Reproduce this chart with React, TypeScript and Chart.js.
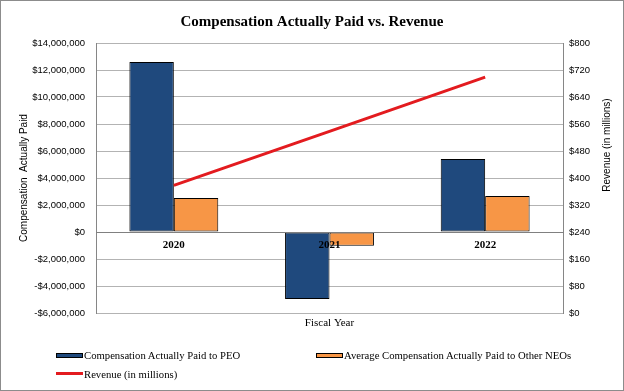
import React, { useEffect, useRef } from "react";
import { Chart, registerables } from "chart.js";

Chart.register(...registerables);

const categories = ["2020", "2021", "2022"];
const peoValues = [12600000, -4960000, 5410000];
const neoValues = [2520000, -1010000, 2670000];
const revenueValues = [378, 538, 699];
const leftTicks = { min: -6000000, max: 14000000, step: 2000000 };
const rightTicks = { min: 0, max: 800, step: 80 };

const titleText = "Compensation Actually Paid vs. Revenue";
const leftTitle = "Compensation  Actually Paid";
const rightTitle = "Revenue (in millions)";
const xTitle = "Fiscal Year";
const seriesNames = [
  "Compensation Actually Paid to PEO",
  "Average Compensation Actually Paid to Other NEOs",
  "Revenue (in millions)",
];

const PEO_COLOR = "#1F497D";
const NEO_COLOR = "#F79646";
const LINE_COLOR = "#E31B1F";
const SANS = '"Liberation Sans", Arial, sans-serif';
const SERIF = '"Liberation Serif", "Times New Roman", serif';

function money(v: number): string {
  const n = Math.round(Math.abs(v));
  const s = "$" + n.toLocaleString("en-US");
  return v < 0 ? "-" + s : s;
}

const titlesPlugin = {
  id: "axisTitles",
  afterDraw(chart: any) {
    const { ctx, chartArea } = chart;
    ctx.save();
    ctx.fillStyle = "#000";
    ctx.textAlign = "center";
    ctx.textBaseline = "middle";
    ctx.font = `10px ${SANS}`;
    ctx.save();
    ctx.translate(chartArea.left - 72, (chartArea.top + chartArea.bottom) / 2);
    ctx.rotate(-Math.PI / 2);
    ctx.fillText(leftTitle, 0, 0);
    ctx.restore();
    ctx.save();
    ctx.translate(chartArea.right + 44, chartArea.top + 102);
    ctx.rotate(-Math.PI / 2);
    ctx.fillText(rightTitle, 0, 0);
    ctx.restore();
    ctx.font = `11px ${SERIF}`;
    ctx.fillText(xTitle, (chartArea.left + chartArea.right) / 2, chartArea.bottom + 10);
    ctx.restore();
  },
};

export default function App() {
  const ref = useRef<HTMLCanvasElement>(null);

  useEffect(() => {
    if (!ref.current) return;
    const chart = new Chart(ref.current, {
      type: "bar",
      data: {
        labels: categories,
        datasets: [
          {
            type: "line",
            label: seriesNames[2],
            data: revenueValues,
            yAxisID: "y1",
            borderColor: LINE_COLOR,
            backgroundColor: LINE_COLOR,
            borderWidth: 3,
            pointRadius: 0,
            tension: 0,
            order: 0,
          } as any,
          {
            label: seriesNames[0],
            data: peoValues,
            yAxisID: "y",
            backgroundColor: PEO_COLOR,
            borderColor: "#000",
            borderWidth: 1,
            borderSkipped: false,
            categoryPercentage: 0.571,
            barPercentage: 1,
            order: 1,
          },
          {
            label: seriesNames[1],
            data: neoValues,
            yAxisID: "y",
            backgroundColor: NEO_COLOR,
            borderColor: "#000",
            borderWidth: 1,
            borderSkipped: false,
            categoryPercentage: 0.571,
            barPercentage: 1,
            order: 1,
          },
        ],
      },
      options: {
        responsive: false,
        animation: false,
        layout: { padding: { left: 0, right: 0, top: 0, bottom: 77 } },
        plugins: {
          legend: { display: false },
          tooltip: { enabled: false },
          title: {
            display: true,
            text: titleText,
            color: "#000",
            font: { family: SERIF, size: 15, weight: "bold" },
            padding: { top: 12, bottom: 12 },
          },
        },
        scales: {
          x: {
            type: "category",
            position: { y: 0 } as any,
            offset: true,
            grid: { display: false, drawTicks: false },
            border: { display: true, color: "#808080", width: 1, z: 1 } as any,
            ticks: {
              z: 2,
              color: "#000",
              padding: 7,
              font: { family: SERIF, size: 11, weight: "bold" },
            },
          },
          y: {
            position: "left",
            min: leftTicks.min,
            max: leftTicks.max,
            afterFit: (s: any) => {
              s.width = 95;
            },
            ticks: {
              stepSize: leftTicks.step,
              color: "#000",
              padding: 11,
              font: { family: SANS, size: 9.5 },
              callback: (v: any) => money(Number(v)),
            },
            grid: { color: "#B3B3B3", drawTicks: false, lineWidth: 1 },
            border: { display: true, color: "#868686" },
          },
          y1: {
            position: "right",
            min: rightTicks.min,
            max: rightTicks.max,
            afterFit: (s: any) => {
              s.width = 60;
            },
            ticks: {
              stepSize: rightTicks.step,
              color: "#000",
              padding: 6,
              font: { family: SANS, size: 9.5 },
              callback: (v: any) => money(Number(v)),
            },
            grid: { display: false, drawTicks: false },
            border: { display: true, color: "#868686" },
          },
        },
      },
      plugins: [titlesPlugin],
    });
    return () => chart.destroy();
  }, []);

  const legendText: React.CSSProperties = {
    position: "absolute",
    fontFamily: SERIF,
    fontSize: "10.7px",
    color: "#000",
    whiteSpace: "nowrap",
    lineHeight: "12px",
  };
  const box = (color: string): React.CSSProperties => ({
    position: "absolute",
    width: 25,
    height: 3,
    background: color,
    border: "1px solid #000",
  });

  return (
    <div
      style={{
        position: "absolute",
        left: 0,
        top: 0,
        width: 624,
        height: 391,
        boxSizing: "border-box",
        border: "1px solid #8C8C8C",
        background: "#fff",
      }}
    >
      <canvas ref={ref} width={622} height={389} style={{ display: "block", width: 622, height: 389 }} />
      <div style={{ ...box(PEO_COLOR), left: 55, top: 352 }} />
      <div style={{ ...legendText, left: 83, top: 348 }}>{seriesNames[0]}</div>
      <div style={{ ...box(NEO_COLOR), left: 315, top: 352 }} />
      <div style={{ ...legendText, left: 343, top: 348 }}>{seriesNames[1]}</div>
      <div style={{ position: "absolute", left: 55, top: 371, width: 27, height: 3, background: LINE_COLOR }} />
      <div style={{ ...legendText, left: 83, top: 367 }}>{seriesNames[2]}</div>
    </div>
  );
}
